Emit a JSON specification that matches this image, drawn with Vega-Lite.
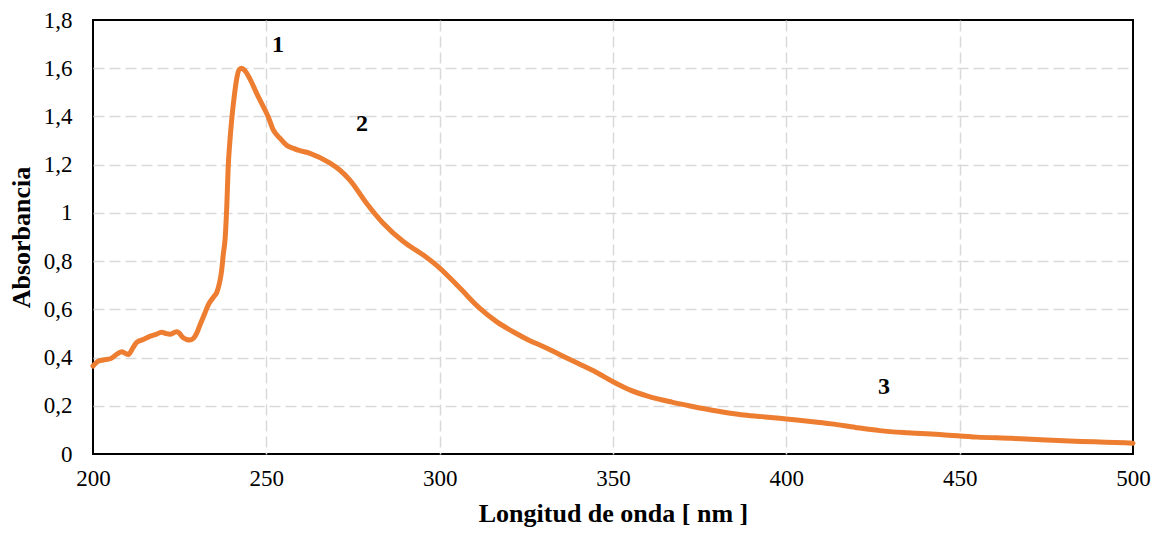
{
  "$schema": "https://vega.github.io/schema/vega-lite/v6.json",
  "width": 1040,
  "height": 434,
  "autosize": {"type": "none"},
  "padding": {"left": 93, "top": 20, "right": 22, "bottom": 79},
  "background": "white",
  "config": {
    "font": "Liberation Serif",
    "view": {"stroke": "black", "strokeWidth": 2},
    "axis": {
      "labelFont": "Liberation Serif",
      "titleFont": "Liberation Serif",
      "labelFontSize": 23,
      "titleFontSize": 26,
      "labelColor": "black",
      "titleColor": "black",
      "titleFontWeight": "bold",
      "ticks": false,
      "domain": false,
      "gridColor": "#d9d9d9",
      "gridWidth": 1.5,
      "gridDash": [11, 5]
    }
  },
  "datasets": {
    "spectrum": [
      {"nm": 200, "abs": 0.365}, {"nm": 201.5, "abs": 0.385}, {"nm": 203, "abs": 0.39}, {"nm": 205, "abs": 0.395},
      {"nm": 207, "abs": 0.415}, {"nm": 208.3, "abs": 0.424}, {"nm": 209.3, "abs": 0.418}, {"nm": 210.2, "abs": 0.413},
      {"nm": 211.5, "abs": 0.44}, {"nm": 212.6, "abs": 0.463}, {"nm": 214.5, "abs": 0.475}, {"nm": 216.4, "abs": 0.488},
      {"nm": 218, "abs": 0.495}, {"nm": 219.8, "abs": 0.505}, {"nm": 221, "abs": 0.5}, {"nm": 222.2, "abs": 0.497},
      {"nm": 224.1, "abs": 0.507}, {"nm": 225, "abs": 0.5}, {"nm": 225.6, "abs": 0.488}, {"nm": 227, "abs": 0.475},
      {"nm": 228, "abs": 0.473}, {"nm": 229, "abs": 0.48}, {"nm": 229.9, "abs": 0.5}, {"nm": 231, "abs": 0.54},
      {"nm": 232.3, "abs": 0.585}, {"nm": 233.3, "abs": 0.62}, {"nm": 234.2, "abs": 0.64}, {"nm": 235, "abs": 0.655},
      {"nm": 235.7, "abs": 0.67}, {"nm": 236.5, "abs": 0.71}, {"nm": 237.1, "abs": 0.76}, {"nm": 237.6, "abs": 0.83},
      {"nm": 238.1, "abs": 0.89}, {"nm": 238.6, "abs": 1.03}, {"nm": 239, "abs": 1.19}, {"nm": 239.5, "abs": 1.3},
      {"nm": 240, "abs": 1.385}, {"nm": 240.8, "abs": 1.49}, {"nm": 241.5, "abs": 1.56}, {"nm": 242.2, "abs": 1.595},
      {"nm": 242.9, "abs": 1.6}, {"nm": 243.8, "abs": 1.59}, {"nm": 245.3, "abs": 1.555}, {"nm": 247.2, "abs": 1.496},
      {"nm": 249.6, "abs": 1.427}, {"nm": 250.5, "abs": 1.4}, {"nm": 252, "abs": 1.344}, {"nm": 253.9, "abs": 1.31},
      {"nm": 255.9, "abs": 1.28}, {"nm": 257.8, "abs": 1.268}, {"nm": 259.2, "abs": 1.26}, {"nm": 262.6, "abs": 1.247},
      {"nm": 268.4, "abs": 1.206}, {"nm": 271, "abs": 1.18}, {"nm": 274.1, "abs": 1.136}, {"nm": 278.9, "abs": 1.04},
      {"nm": 283.7, "abs": 0.957}, {"nm": 289.5, "abs": 0.881}, {"nm": 295.3, "abs": 0.825}, {"nm": 300.1, "abs": 0.77},
      {"nm": 305.9, "abs": 0.687}, {"nm": 311.6, "abs": 0.604}, {"nm": 316.4, "abs": 0.549}, {"nm": 321.2, "abs": 0.507},
      {"nm": 325.6, "abs": 0.473}, {"nm": 330, "abs": 0.445}, {"nm": 335, "abs": 0.41}, {"nm": 340, "abs": 0.375},
      {"nm": 345, "abs": 0.34}, {"nm": 350, "abs": 0.3}, {"nm": 355, "abs": 0.265}, {"nm": 360, "abs": 0.24},
      {"nm": 367, "abs": 0.215}, {"nm": 372, "abs": 0.2}, {"nm": 380, "abs": 0.178}, {"nm": 387, "abs": 0.163},
      {"nm": 393, "abs": 0.155}, {"nm": 400, "abs": 0.145}, {"nm": 407, "abs": 0.135}, {"nm": 413, "abs": 0.125},
      {"nm": 420, "abs": 0.11}, {"nm": 427, "abs": 0.097}, {"nm": 435, "abs": 0.088}, {"nm": 445, "abs": 0.08},
      {"nm": 455, "abs": 0.07}, {"nm": 465, "abs": 0.065}, {"nm": 475, "abs": 0.058}, {"nm": 485, "abs": 0.052},
      {"nm": 492, "abs": 0.049}, {"nm": 500, "abs": 0.045}
    ],
    "labels": [
      {"nm": 253.4, "abs": 1.697, "label": "1"},
      {"nm": 277.6, "abs": 1.369, "label": "2"},
      {"nm": 428.2, "abs": 0.278, "label": "3"}
    ]
  },
  "layer": [
    {
      "data": {"name": "spectrum"},
      "mark": {"type": "line", "color": "#ED7D31", "strokeWidth": 5, "interpolate": "monotone", "strokeCap": "round", "strokeJoin": "round"},
      "encoding": {
        "x": {
          "field": "nm", "type": "quantitative",
          "scale": {"domain": [200, 500], "nice": false, "zero": false},
          "axis": {
            "title": "Longitud de onda [ nm ]",
            "values": [200, 250, 300, 350, 400, 450, 500],
            "labelPadding": 13, "titlePadding": 10, "labelFlush": false,
            "gridOpacity": {"condition": {"test": "datum.value == 200 || datum.value == 500", "value": 0}, "value": 1}
          }
        },
        "y": {
          "field": "abs", "type": "quantitative",
          "scale": {"domain": [0, 1.8], "nice": false},
          "axis": {
            "title": "Absorbancia",
            "values": [0, 0.2, 0.4, 0.6, 0.8, 1, 1.2, 1.4, 1.6, 1.8],
            "labelExpr": "replace(format(datum.value, '~g'), '.', ',')",
            "labelPadding": 21, "titlePadding": 9, "labelFlush": false,
            "gridOpacity": {"condition": {"test": "datum.value == 0 || datum.value == 1.8", "value": 0}, "value": 1}
          }
        }
      }
    },
    {
      "data": {"name": "labels"},
      "mark": {"type": "text", "font": "Liberation Serif", "fontSize": 24, "fontWeight": "bold", "color": "black", "align": "center", "baseline": "middle"},
      "encoding": {
        "x": {"field": "nm", "type": "quantitative"},
        "y": {"field": "abs", "type": "quantitative"},
        "text": {"field": "label"}
      }
    }
  ]
}
